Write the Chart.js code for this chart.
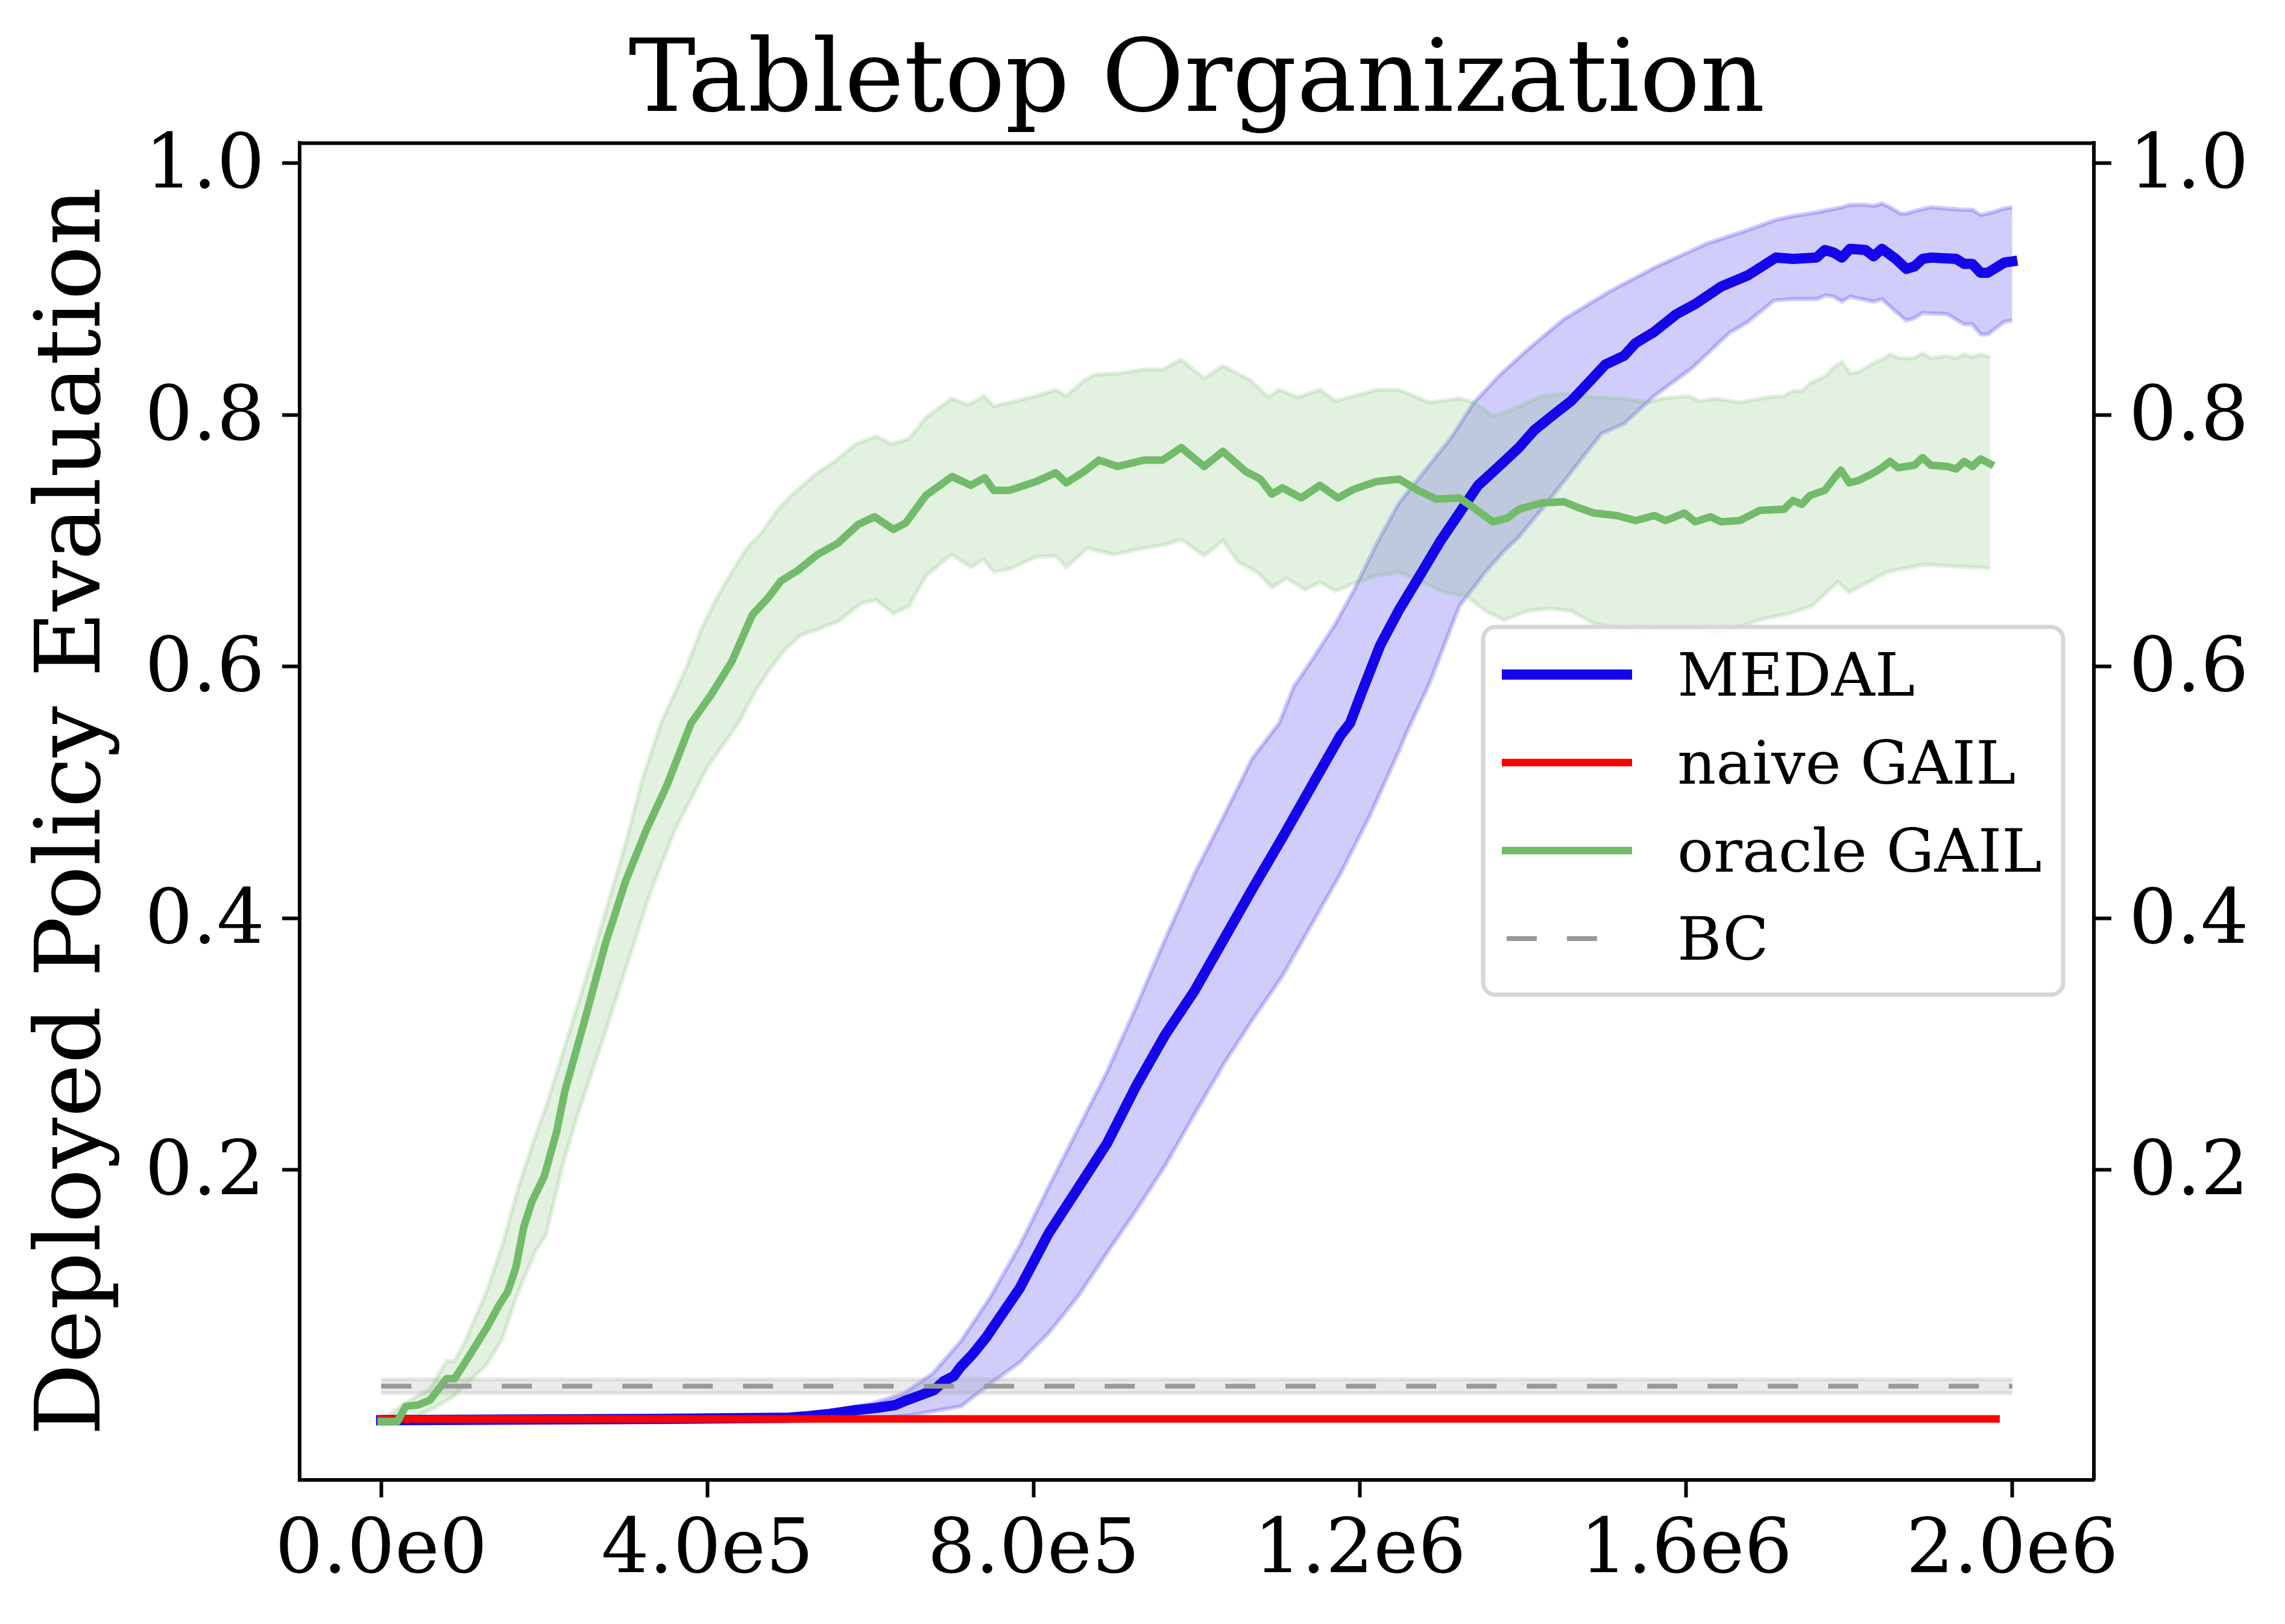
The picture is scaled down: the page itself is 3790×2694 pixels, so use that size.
<!DOCTYPE html>
<html>
<head>
<meta charset="utf-8">
<title>Tabletop Organization</title>
<script src="https://cdn.jsdelivr.net/npm/chart.js@4.4.0/dist/chart.umd.min.js"></script>
<style>
  html, body { margin: 0; padding: 0; background: #fff; }
  canvas { display: block; }
</style>
</head>
<body>
<canvas id="chart" width="3790" height="2694"></canvas>
<script>
// x values are environment steps, in millions
const xTicks = [0, 0.4, 0.8, 1.2, 1.6, 2.0];
const xTickLabels = ["0.0e0", "4.0e5", "8.0e5", "1.2e6", "1.6e6", "2.0e6"];
const yTicks = [0.2, 0.4, 0.6, 0.8, 1.0];
const seriesNames = ["MEDAL", "naive GAIL", "oracle GAIL", "BC"];

// MEDAL: mean and the shaded band
const medalMean = [
  [0, 0.001], [0.34, 0.002], [0.5, 0.003], [0.52, 0.004], [0.55, 0.006], [0.582, 0.009],
  [0.61, 0.011], [0.63, 0.013], [0.645, 0.017], [0.662, 0.021], [0.678, 0.025], [0.69, 0.032],
  [0.702, 0.036], [0.71, 0.043], [0.726, 0.054], [0.742, 0.067], [0.783, 0.106], [0.818, 0.149],
  [0.854, 0.185], [0.89, 0.221], [0.926, 0.267], [0.961, 0.307], [0.997, 0.342], [1.033, 0.383],
  [1.068, 0.423], [1.105, 0.464], [1.14, 0.504], [1.176, 0.545], [1.188, 0.555], [1.202, 0.579],
  [1.225, 0.617], [1.248, 0.645], [1.276, 0.675], [1.299, 0.7], [1.322, 0.722], [1.345, 0.744],
  [1.372, 0.76], [1.395, 0.774], [1.414, 0.788], [1.441, 0.802], [1.459, 0.811], [1.478, 0.824],
  [1.501, 0.84], [1.524, 0.847], [1.538, 0.857], [1.561, 0.866], [1.588, 0.88], [1.611, 0.888],
  [1.643, 0.902], [1.676, 0.911], [1.71, 0.925], [1.731, 0.924], [1.76, 0.925], [1.77, 0.931],
  [1.781, 0.929], [1.791, 0.925], [1.801, 0.932], [1.82, 0.931], [1.83, 0.926], [1.84, 0.932],
  [1.857, 0.924], [1.87, 0.916], [1.88, 0.918], [1.89, 0.924], [1.9, 0.925], [1.931, 0.924],
  [1.941, 0.92], [1.951, 0.92], [1.961, 0.913], [1.97, 0.913], [1.99, 0.921], [2.0, 0.922]
];
const medalHigh = [
  [0, 0.003], [0.5, 0.004], [0.55, 0.008], [0.6, 0.014], [0.64, 0.022], [0.676, 0.038],
  [0.711, 0.064], [0.747, 0.099], [0.783, 0.14], [0.818, 0.186], [0.854, 0.232], [0.89, 0.278],
  [0.926, 0.33], [0.961, 0.383], [0.997, 0.435], [1.033, 0.481], [1.068, 0.527], [1.101, 0.555],
  [1.119, 0.584], [1.142, 0.606], [1.17, 0.634], [1.193, 0.661], [1.22, 0.697], [1.248, 0.73],
  [1.285, 0.76], [1.312, 0.782], [1.34, 0.81], [1.372, 0.832], [1.404, 0.851], [1.45, 0.876],
  [1.506, 0.898], [1.561, 0.917], [1.625, 0.936], [1.676, 0.947], [1.71, 0.955], [1.731, 0.958],
  [1.76, 0.961], [1.791, 0.965], [1.801, 0.967], [1.82, 0.967], [1.83, 0.966], [1.84, 0.968],
  [1.85, 0.965], [1.863, 0.96], [1.87, 0.96], [1.88, 0.962], [1.9, 0.965], [1.92, 0.964],
  [1.941, 0.963], [1.951, 0.963], [1.961, 0.959], [1.97, 0.96], [1.99, 0.964], [2.0, 0.965]
];
const medalLow = [
  [0, 0], [0.5, 0], [0.6, 0.002], [0.65, 0.005], [0.711, 0.012], [0.747, 0.03], [0.783, 0.047],
  [0.818, 0.07], [0.854, 0.099], [0.89, 0.134], [0.926, 0.168], [0.961, 0.203], [0.997, 0.244],
  [1.033, 0.284], [1.068, 0.319], [1.105, 0.354], [1.14, 0.394], [1.176, 0.435], [1.212, 0.481],
  [1.248, 0.533], [1.257, 0.547], [1.285, 0.586], [1.322, 0.648], [1.354, 0.675], [1.377, 0.692],
  [1.395, 0.703], [1.423, 0.725], [1.45, 0.747], [1.496, 0.785], [1.524, 0.793], [1.561, 0.815],
  [1.607, 0.837], [1.653, 0.865], [1.676, 0.874], [1.708, 0.891], [1.731, 0.892], [1.76, 0.892],
  [1.771, 0.895], [1.781, 0.894], [1.791, 0.89], [1.801, 0.894], [1.83, 0.89], [1.84, 0.892],
  [1.859, 0.881], [1.87, 0.875], [1.88, 0.877], [1.89, 0.881], [1.92, 0.88], [1.941, 0.872],
  [1.951, 0.872], [1.961, 0.864], [1.97, 0.864], [1.99, 0.874], [2.0, 0.875]
];

// naive GAIL stays flat at the bottom
const naiveMean = [[0, 0.002], [1.98, 0.002]];

// oracle GAIL
const oracleMean = [
  [0, 0], [0.02, 0], [0.03, 0.012], [0.045, 0.013], [0.06, 0.017], [0.08, 0.034], [0.09, 0.034],
  [0.105, 0.049], [0.13, 0.075], [0.145, 0.093], [0.155, 0.103], [0.165, 0.122], [0.175, 0.155],
  [0.185, 0.175], [0.2, 0.195], [0.215, 0.23], [0.225, 0.262], [0.25, 0.32], [0.275, 0.38],
  [0.3, 0.43], [0.325, 0.47], [0.35, 0.505], [0.38, 0.555], [0.405, 0.578], [0.43, 0.604],
  [0.455, 0.641], [0.475, 0.655], [0.49, 0.668], [0.51, 0.676], [0.535, 0.689], [0.56, 0.698],
  [0.585, 0.713], [0.605, 0.719], [0.628, 0.709], [0.643, 0.714], [0.668, 0.736], [0.7, 0.751],
  [0.723, 0.744], [0.74, 0.75], [0.751, 0.74], [0.77, 0.74], [0.803, 0.747], [0.827, 0.754],
  [0.84, 0.746], [0.862, 0.755], [0.88, 0.764], [0.903, 0.759], [0.935, 0.764], [0.958, 0.764],
  [0.981, 0.774], [1.009, 0.759], [1.032, 0.771], [1.06, 0.755], [1.078, 0.749], [1.092, 0.737],
  [1.105, 0.742], [1.128, 0.734], [1.151, 0.744], [1.173, 0.734], [1.193, 0.741], [1.22, 0.747],
  [1.248, 0.749], [1.271, 0.74], [1.294, 0.733], [1.322, 0.734], [1.34, 0.726], [1.363, 0.715],
  [1.381, 0.718], [1.395, 0.725], [1.423, 0.73], [1.45, 0.731], [1.469, 0.726], [1.487, 0.722],
  [1.515, 0.72], [1.538, 0.716], [1.561, 0.72], [1.575, 0.716], [1.598, 0.722], [1.611, 0.715],
  [1.63, 0.719], [1.643, 0.715], [1.666, 0.716], [1.69, 0.724], [1.72, 0.725], [1.731, 0.732],
  [1.742, 0.729], [1.752, 0.736], [1.77, 0.74], [1.783, 0.751], [1.79, 0.756], [1.8, 0.746],
  [1.812, 0.748], [1.83, 0.754], [1.84, 0.758], [1.85, 0.763], [1.86, 0.758], [1.88, 0.76],
  [1.89, 0.766], [1.9, 0.76], [1.92, 0.759], [1.931, 0.757], [1.941, 0.763], [1.951, 0.759],
  [1.961, 0.765], [1.973, 0.761]
];
const oracleHigh = [
  [0, 0], [0.03, 0.015], [0.06, 0.026], [0.08, 0.048], [0.09, 0.048], [0.103, 0.064],
  [0.129, 0.103], [0.149, 0.141], [0.169, 0.188], [0.189, 0.227], [0.202, 0.25], [0.25, 0.35],
  [0.3, 0.46], [0.32, 0.51], [0.343, 0.555], [0.374, 0.599], [0.392, 0.629], [0.41, 0.653],
  [0.429, 0.674], [0.447, 0.693], [0.466, 0.706], [0.484, 0.723], [0.503, 0.736], [0.533, 0.753],
  [0.558, 0.764], [0.582, 0.777], [0.607, 0.783], [0.625, 0.777], [0.647, 0.781], [0.668, 0.798],
  [0.699, 0.813], [0.72, 0.808], [0.739, 0.815], [0.751, 0.807], [0.772, 0.81], [0.803, 0.815],
  [0.827, 0.82], [0.84, 0.815], [0.863, 0.828], [0.875, 0.832], [0.903, 0.833], [0.935, 0.836],
  [0.958, 0.836], [0.981, 0.844], [1.009, 0.829], [1.032, 0.839], [1.065, 0.828], [1.088, 0.814],
  [1.101, 0.82], [1.124, 0.814], [1.151, 0.82], [1.17, 0.811], [1.193, 0.815], [1.22, 0.82],
  [1.248, 0.82], [1.285, 0.81], [1.322, 0.813], [1.34, 0.81], [1.363, 0.799], [1.386, 0.804],
  [1.423, 0.815], [1.45, 0.817], [1.487, 0.814], [1.524, 0.813], [1.552, 0.81], [1.57, 0.813],
  [1.603, 0.815], [1.617, 0.811], [1.635, 0.813], [1.666, 0.81], [1.701, 0.814], [1.72, 0.815],
  [1.731, 0.819], [1.742, 0.819], [1.752, 0.825], [1.762, 0.828], [1.773, 0.832], [1.781, 0.838],
  [1.791, 0.842], [1.801, 0.833], [1.811, 0.834], [1.83, 0.841], [1.84, 0.844], [1.85, 0.848],
  [1.862, 0.845], [1.88, 0.845], [1.89, 0.849], [1.9, 0.845], [1.92, 0.847], [1.931, 0.845],
  [1.941, 0.848], [1.951, 0.846], [1.961, 0.848], [1.973, 0.846]
];
const oracleLow = [
  [0, 0], [0.03, 0], [0.063, 0.01], [0.087, 0.019], [0.129, 0.045], [0.149, 0.066], [0.162, 0.092],
  [0.172, 0.109], [0.189, 0.135], [0.202, 0.148], [0.212, 0.175], [0.223, 0.205], [0.241, 0.244],
  [0.27, 0.3], [0.3, 0.36], [0.33, 0.42], [0.36, 0.47], [0.4, 0.52], [0.438, 0.555], [0.46, 0.582],
  [0.478, 0.599], [0.496, 0.614], [0.515, 0.625], [0.533, 0.629], [0.561, 0.636], [0.588, 0.65],
  [0.607, 0.653], [0.628, 0.642], [0.647, 0.648], [0.668, 0.672], [0.699, 0.689], [0.723, 0.679],
  [0.739, 0.685], [0.751, 0.675], [0.772, 0.678], [0.803, 0.687], [0.827, 0.688], [0.84, 0.679],
  [0.866, 0.694], [0.898, 0.689], [0.935, 0.694], [0.963, 0.697], [0.981, 0.701], [1.009, 0.688],
  [1.032, 0.7], [1.051, 0.683], [1.074, 0.675], [1.092, 0.663], [1.11, 0.67], [1.133, 0.661],
  [1.151, 0.667], [1.17, 0.66], [1.193, 0.666], [1.22, 0.672], [1.248, 0.675], [1.276, 0.667],
  [1.303, 0.659], [1.331, 0.656], [1.354, 0.644], [1.377, 0.637], [1.405, 0.644], [1.433, 0.646],
  [1.46, 0.644], [1.487, 0.634], [1.515, 0.631], [1.547, 0.628], [1.57, 0.631], [1.607, 0.631],
  [1.635, 0.627], [1.662, 0.631], [1.69, 0.637], [1.726, 0.642], [1.754, 0.648], [1.786, 0.667],
  [1.8, 0.659], [1.846, 0.675], [1.892, 0.681], [1.973, 0.678]
];

// BC baseline
const bcX = [0, 2.0];
const bcMean = [0.028, 0.028];
const bcLow = [0.0225, 0.0225];
const bcHigh = [0.0335, 0.0335];

const blue = "#1405ea";
const blueFill = "rgba(20, 5, 234, 0.2)";
const green = "#72bb6a";
const greenFill = "rgba(114, 187, 106, 0.2)";
const grey = "#999999";
const greyFill = "rgba(153, 153, 153, 0.2)";
const red = "#ff0000";
const serif = "'DejaVu Serif', 'Liberation Serif', serif";

function pts(pairs) {
  return pairs.map(p => ({ x: p[0], y: p[1] }));
}
function zipPts(xs, ys) {
  return xs.map((x, i) => ({ x: x, y: ys[i] }));
}

function bandEdge(data, fillColor, order, target) {
  return {
    data: data,
    borderColor: fillColor,
    backgroundColor: fillColor,
    borderWidth: 7,
    pointRadius: 0,
    fill: target === undefined ? false : { target: target },
    order: order,
  };
}
function meanLine(label, data, color, width, order, dash) {
  return {
    label: label,
    data: data,
    borderColor: color,
    backgroundColor: color,
    borderWidth: width,
    borderCapStyle: dash ? "butt" : "square",
    borderJoinStyle: "round",
    borderDash: dash || [],
    pointRadius: 0,
    fill: false,
    order: order,
  };
}

const datasets = [
  bandEdge(pts(medalLow), blueFill, 30),
  bandEdge(pts(medalHigh), blueFill, 30, 0),
  bandEdge(pts(oracleLow), greenFill, 29),
  bandEdge(pts(oracleHigh), greenFill, 29, 2),
  bandEdge(zipPts(bcX, bcLow), greyFill, 28),
  bandEdge(zipPts(bcX, bcHigh), greyFill, 28, 4),
  meanLine(seriesNames[0], pts(medalMean), blue, 17, 20),
  meanLine(seriesNames[1], pts(naiveMean), red, 12.5, 19),
  meanLine(seriesNames[2], pts(oracleMean), green, 12.5, 18),
  meanLine(seriesNames[3], zipPts(bcX, bcMean), grey, 8, 17, [50, 50]),
];

// top spine, which Chart.js has no axis for
const topSpine = {
  id: "topSpine",
  afterDatasetsDraw(chart) {
    const a = chart.chartArea;
    const ctx = chart.ctx;
    ctx.save();
    ctx.strokeStyle = "#000";
    ctx.lineWidth = 6;
    ctx.beginPath();
    ctx.moveTo(a.left - 3, a.top);
    ctx.lineTo(a.right + 3, a.top);
    ctx.stroke();
    ctx.restore();
  }
};

// matplotlib-like legend inside the axes
const boxLegend = {
  id: "boxLegend",
  afterDraw(chart) {
    const ctx = chart.ctx;
    const x = 2460, y = 1040, w = 962, h = 610, r = 20;
    ctx.save();
    ctx.beginPath();
    ctx.moveTo(x + r, y);
    ctx.arcTo(x + w, y, x + w, y + h, r);
    ctx.arcTo(x + w, y + h, x, y + h, r);
    ctx.arcTo(x, y + h, x, y, r);
    ctx.arcTo(x, y, x + w, y, r);
    ctx.closePath();
    ctx.fillStyle = "rgba(255, 255, 255, 0.8)";
    ctx.fill();
    ctx.strokeStyle = "#d6d6d6";
    ctx.lineWidth = 7;
    ctx.stroke();

    const styles = [
      { color: blue, width: 17, dash: [] },
      { color: red, width: 12.5, dash: [] },
      { color: green, width: 12.5, dash: [] },
      { color: grey, width: 8, dash: [50, 50] },
    ];
    ctx.font = "100px " + serif;
    ctx.textAlign = "left";
    ctx.textBaseline = "alphabetic";
    seriesNames.forEach((name, i) => {
      const ly = 1119 + i * 146;
      const s = styles[i];
      ctx.beginPath();
      ctx.strokeStyle = s.color;
      ctx.lineWidth = s.width;
      ctx.lineCap = "butt";
      ctx.setLineDash(s.dash);
      if (s.dash.length) {
        ctx.moveTo(2499, ly);
        ctx.lineTo(2649, ly);
      } else {
        ctx.moveTo(2491, ly);
        ctx.lineTo(2707, ly);
      }
      ctx.stroke();
      ctx.setLineDash([]);
      ctx.fillStyle = "#000";
      ctx.fillText(name, 2782, ly + 35);
    });
    ctx.restore();
  }
};

function fixedTicks(list) {
  return function (scale) {
    scale.ticks = list.map(v => ({ value: v }));
  };
}

const tickFont = { family: serif, size: 125 };
const axisGrid = {
  display: true,
  drawOnChartArea: false,
  drawTicks: true,
  tickLength: 29,
  tickWidth: 6,
  tickColor: "#000",
  color: "#000",
};
const axisBorder = { display: true, color: "#000", width: 6 };

Chart.defaults.font.family = serif;

new Chart(document.getElementById("chart"), {
  type: "line",
  data: { datasets: datasets },
  plugins: [topSpine, boxLegend],
  options: {
    responsive: false,
    devicePixelRatio: 1,
    animation: false,
    layout: { padding: 0 },
    plugins: {
      legend: { display: false },
      tooltip: { enabled: false },
      title: {
        display: true,
        text: "Tabletop Organization",
        fullSize: false,
        color: "#000",
        font: { family: serif, size: 167, weight: "normal", lineHeight: 1.2 },
        padding: { top: 40, bottom: -3 },
      },
    },
    scales: {
      x: {
        type: "linear",
        position: "bottom",
        min: -0.1,
        max: 2.1,
        afterBuildTicks: fixedTicks(xTicks),
        afterFit: s => { s.height = 239; },
        ticks: {
          font: tickFont,
          color: "#000",
          padding: 17,
          autoSkip: false,
          maxRotation: 0,
          callback: (v, i) => xTickLabels[i],
        },
        grid: axisGrid,
        border: axisBorder,
      },
      y: {
        type: "linear",
        position: "left",
        min: -0.0465,
        max: 1.016,
        afterBuildTicks: fixedTicks(yTicks),
        afterFit: s => { s.width = 497; },
        ticks: {
          font: tickFont,
          color: "#000",
          padding: 29,
          labelOffset: 8,
          callback: v => v.toFixed(1),
        },
        grid: axisGrid,
        border: axisBorder,
        title: {
          display: true,
          text: "Deployed Policy Evaluation",
          color: "#000",
          font: { family: serif, size: 150, lineHeight: 1.2 },
          padding: { top: 36, bottom: 0 },
        },
      },
      y2: {
        type: "linear",
        position: "right",
        display: true,
        min: -0.0465,
        max: 1.016,
        afterBuildTicks: fixedTicks(yTicks),
        afterFit: s => { s.width = 317; },
        ticks: {
          font: tickFont,
          color: "#000",
          padding: 29,
          labelOffset: 8,
          callback: v => v.toFixed(1),
        },
        grid: axisGrid,
        border: axisBorder,
      },
    },
  },
});
</script>
</body>
</html>
